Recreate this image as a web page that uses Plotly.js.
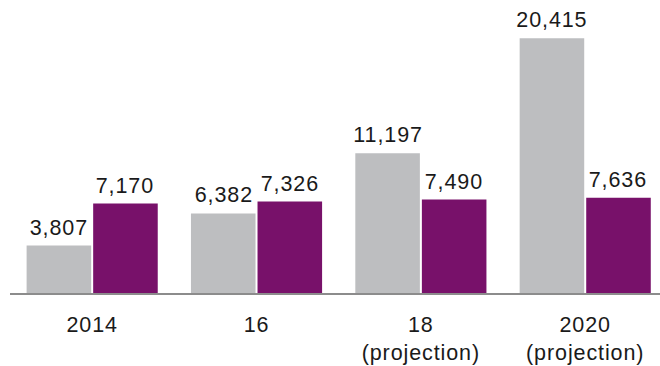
<!DOCTYPE html>
<html>
<head>
<meta charset="utf-8">
<script src="https://cdn.plot.ly/plotly-3.0.1.min.js"></script>
<style>
html,body{margin:0;padding:0;background:#fff;}
#chart{width:660px;height:366px;}
.main-svg text{letter-spacing:0.9px;}
</style>
</head>
<body>
<div id="chart"></div>
<script>
const categories = ["2014", "16", "18", "2020"];
const tickLabels = ["2014", "16", "18<br>(projection)", "2020<br>(projection)"];
const seriesGray = [3807, 6382, 11197, 20415];
const seriesPurple = [7170, 7326, 7490, 7636];

const labelFont = {family: "Liberation Sans, Arial, sans-serif", size: 21.5, color: "#1a1a1a"};

const traces = [
  {
    type: "bar", x: categories, y: seriesGray,
    marker: {color: "#bdbec0"},
    hoverinfo: "none", showlegend: false
  },
  {
    type: "bar", x: categories, y: seriesPurple,
    marker: {color: "#78116a"},
    hoverinfo: "none", showlegend: false
  }
];

const fmt = v => String(v).replace(/\B(?=(\d{3})+(?!\d))/g, ",");
const annotations = [];
categories.forEach((c, i) => {
  annotations.push({x: i, y: seriesGray[i], xref: "x", yref: "y", text: fmt(seriesGray[i]),
    showarrow: false, xanchor: "center", yanchor: "bottom", xshift: -33, yshift: 4, font: labelFont});
  annotations.push({x: i, y: seriesPurple[i], xref: "x", yref: "y", text: fmt(seriesPurple[i]),
    showarrow: false, xanchor: "center", yanchor: "bottom", xshift: 33, yshift: 4, font: labelFont});
});

const layout = {
  width: 660, height: 366,
  margin: {l: 10, r: 0, t: 20, b: 73},
  paper_bgcolor: "#fff", plot_bgcolor: "#fff",
  barmode: "group", bargap: 0.19, bargroupgap: 0.03,
  font: labelFont,
  annotations: annotations,
  xaxis: {
    type: "category", range: [-0.5, 3.455],
    tickvals: categories, ticktext: tickLabels,
    showline: true, linecolor: "#8c8c8c", linewidth: 2,
    ticks: "", ticklabelstandoff: 11,
    showgrid: false, zeroline: false, fixedrange: true,
    tickfont: labelFont
  },
  yaxis: {
    range: [0, 21882], visible: false, showgrid: false, zeroline: false, fixedrange: true
  }
};

Plotly.newPlot("chart", traces, layout, {staticPlot: true, displayModeBar: false});
</script>
</body>
</html>
